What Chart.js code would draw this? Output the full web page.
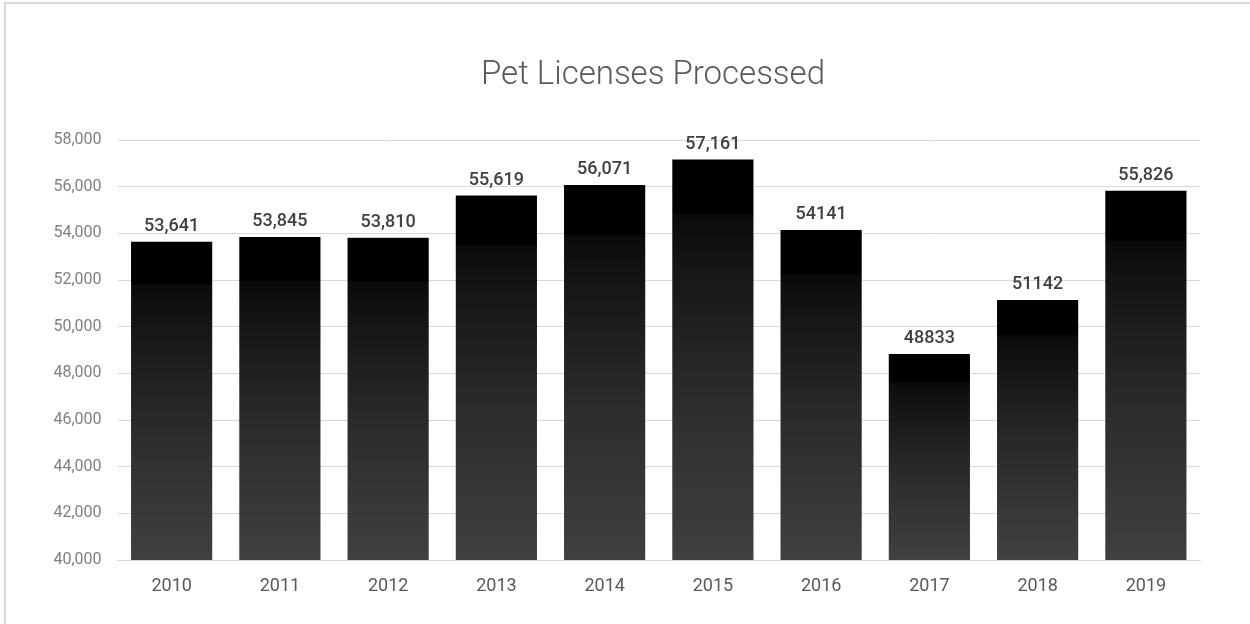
<!DOCTYPE html>
<html>
<head>
<meta charset="utf-8">
<script src="https://cdn.jsdelivr.net/npm/chart.js@4"></script>
<style>
  html, body { margin: 0; padding: 0; background: #fff; overflow: hidden; }
  #box {
    position: absolute; left: 4px; top: 2px;
    width: 1294px; height: 621px;
    border: 2px solid #d9d9d9;
  }
</style>
</head>
<body>
<div id="box"><canvas id="myChart" width="1294" height="621"></canvas></div>
<script>
'use strict';

const chartTitle = 'Pet Licenses Processed';
const years = ['2010', '2011', '2012', '2013', '2014', '2015', '2016', '2017', '2018', '2019'];
const licenses = [53641, 53845, 53810, 55619, 56071, 57161, 54141, 48833, 51142, 55826];
// labels as printed on the chart (some without thousands separator)
const valueLabels = ['53,641', '53,845', '53,810', '55,619', '56,071', '57,161', '54141', '48833', '51142', '55,826'];
const yMin = 40000;
const yMax = 58000;
const yStep = 2000;

// gradient per bar: black on top fading to dark gray
function barGradient(context) {
	const chart = context.chart;
	if (!chart.chartArea) return '#000';
	const yScale = chart.scales.y;
	const top = yScale.getPixelForValue(context.raw);
	const bottom = yScale.getPixelForValue(yMin);
	const g = chart.ctx.createLinearGradient(0, top, 0, bottom);
	g.addColorStop(0, '#000000');
	g.addColorStop(0.13, '#000000');
	g.addColorStop(0.14, '#0b0b0b');
	g.addColorStop(0.3, '#181818');
	g.addColorStop(0.6, '#2c2c2c');
	g.addColorStop(1, '#404040');
	return g;
}

// title centred on the whole chart box, and the value above each bar
const labelPlugin = {
	id: 'labels',
	afterDatasetsDraw(chart) {
		const ctx = chart.ctx;
		ctx.save();
		ctx.font = '300 33px Roboto';
		ctx.fillStyle = '#595959';
		ctx.textAlign = 'center';
		ctx.textBaseline = 'alphabetic';
		ctx.fillText(chartTitle, chart.width / 2, 80);

		const meta = chart.getDatasetMeta(0);
		ctx.font = '500 18px Roboto';
		ctx.fillStyle = '#404040';
		meta.data.forEach((bar, i) => {
			ctx.fillText(valueLabels[i], bar.x, bar.y - 11);
		});
		ctx.restore();
	}
};

const ctx = document.getElementById('myChart');

new Chart(ctx, {
	type: 'bar',
	data: {
		labels: years,
		datasets: [{
			label: chartTitle,
			data: licenses,
			backgroundColor: barGradient,
			borderWidth: 0,
			barPercentage: 0.75,
			categoryPercentage: 1,
		}]
	},
	options: {
		responsive: false,
		animation: false,
		layout: {
			padding: { left: 0, right: 100, top: 136, bottom: 0 }
		},
		plugins: {
			legend: { display: false },
			tooltip: { enabled: false },
			title: { display: false },
		},
		scales: {
			x: {
				grid: { display: false, drawTicks: false },
				border: { display: true, color: '#d9d9d9', width: 1 },
				ticks: {
					color: '#595959',
					font: { family: 'Roboto', size: 18 },
					padding: 16,
				},
				afterFit(scale) { scale.height = 65; },
			},
			y: {
				min: yMin,
				max: yMax,
				border: { display: false },
				grid: { color: '#d9d9d9', lineWidth: 1, drawTicks: false },
				ticks: {
					stepSize: yStep,
					color: '#808080',
					font: { family: 'Roboto', size: 16 },
					padding: 16,
					callback: (v) => v.toLocaleString('en-US'),
				},
				afterFit(scale) { scale.width = 111.5; },
			}
		},
	},
	plugins: [labelPlugin]
});
</script>
</body>
</html>
